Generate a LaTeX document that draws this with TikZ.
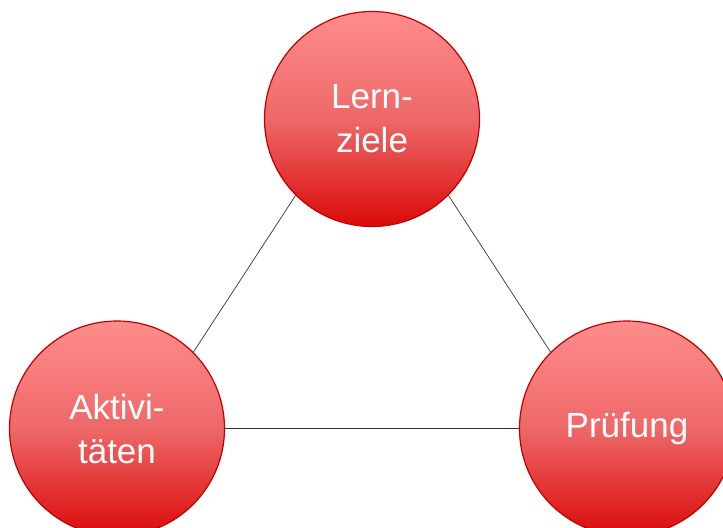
\documentclass[tikz,border=0pt]{standalone}
\usepackage{fontspec}
\setmainfont{Liberation Sans}
\definecolor{ctop}{RGB}{255,140,140}
\definecolor{cmid}{RGB}{238,104,104}
\definecolor{cbot}{RGB}{218,10,10}
\definecolor{cedge}{RGB}{192,0,0}
\begin{document}
\begin{tikzpicture}[x=1bp,y=-1bp,
  ball/.style={circle,minimum size=215bp,inner sep=0pt,draw=cedge,line width=1.2bp,
    top color=ctop,bottom color=cbot,middle color=cmid,text=white,align=center,
    font=\fontsize{35bp}{44bp}\selectfont},
  link/.style={draw=black!80,line width=0.7bp}]
\useasboundingbox (0,0) rectangle (723,528);
\clip (0,0) rectangle (723,528);
\node[ball] (lz) at (372,119) {Lern-\\ziele};
\node[ball] (ak) at (117,428.5) {Aktivi-\\täten};
\node[ball] (pr) at (627,428.5) {Prüfung};
\draw[link] (lz.225) -- (ak.45);
\draw[link] (lz.315) -- (pr.135);
\draw[link] (ak.east) -- (pr.west);
\end{tikzpicture}
\end{document}
